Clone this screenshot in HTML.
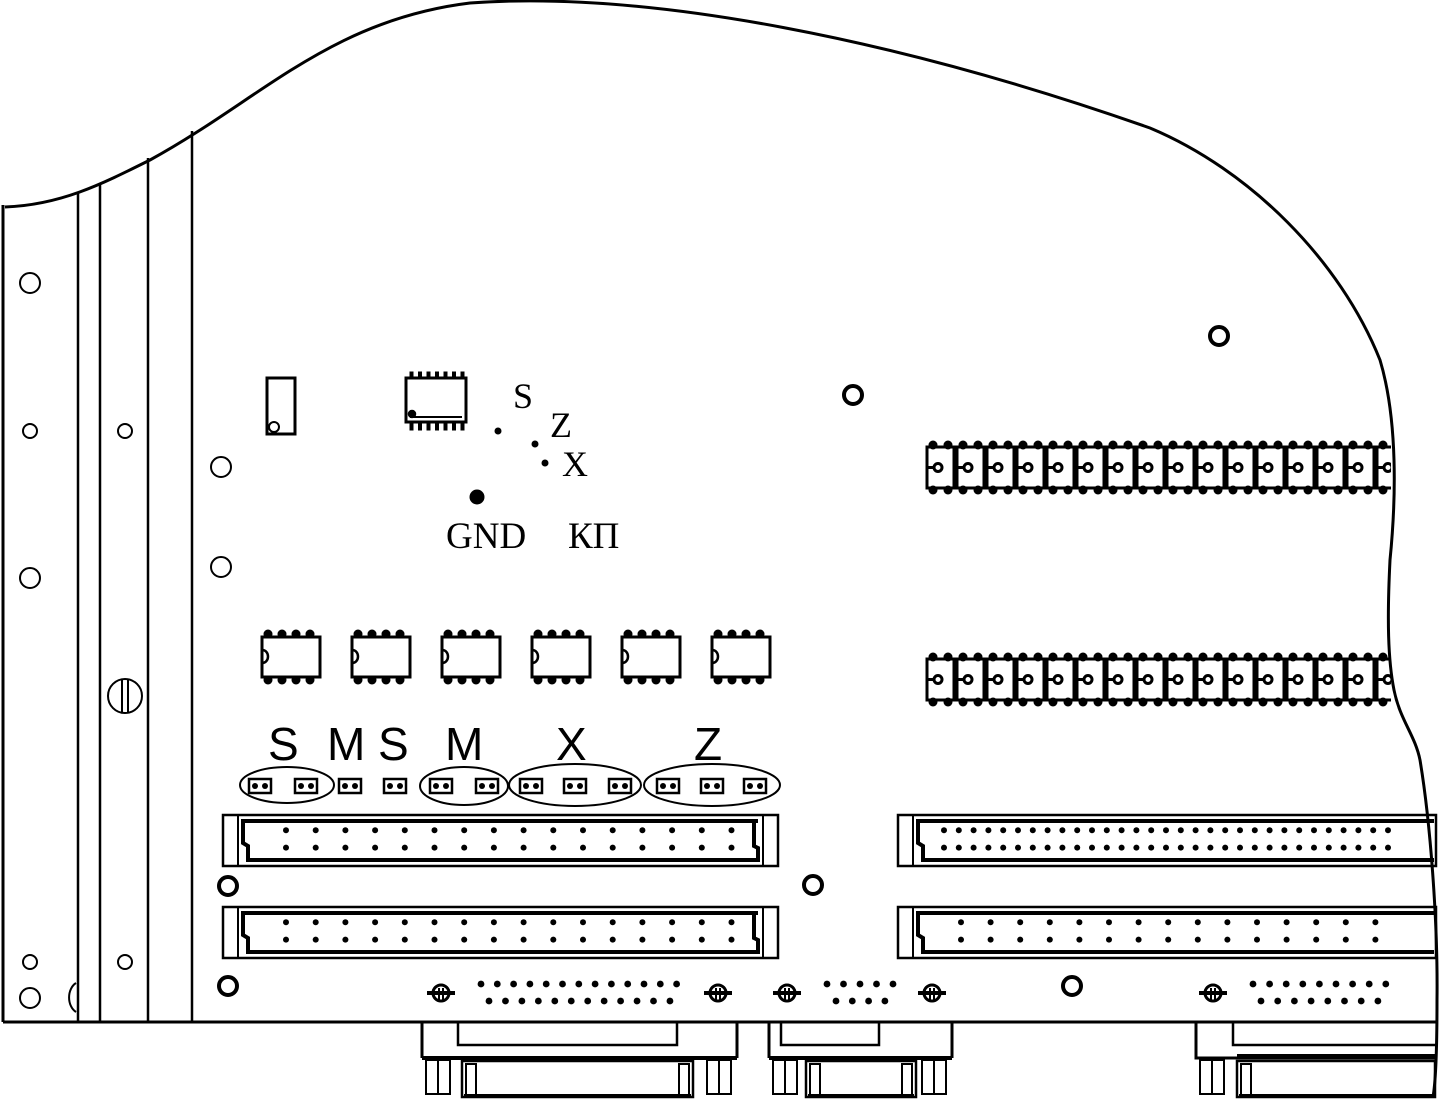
<!DOCTYPE html>
<html><head><meta charset="utf-8"><style>
html,body{margin:0;padding:0;background:#fff;width:1441px;height:1099px;overflow:hidden}
svg{display:block}
.s{font-family:"Liberation Serif",serif;fill:#000}
.a{font-family:"Liberation Sans",sans-serif;fill:#000}
</style></head><body>
<svg id="c" width="1441" height="1099" viewBox="0 0 1441 1099" xmlns="http://www.w3.org/2000/svg" fill="none" stroke="#000" stroke-width="2.5">
<defs><clipPath id="cl"><rect x="0" y="0" width="1391" height="1099"/></clipPath></defs>
<path d="M5,207 C60,205 100,185 150,160 C260,100 330,20 470,3 C650,-10 900,40 1150,128 C1250,170 1340,260 1380,360 C1398,420 1396,500 1390,560 C1387,620 1388,660 1394,690 C1400,720 1415,735 1420,760 C1430,820 1438,920 1437,1000 C1437,1050 1436,1080 1433,1097" stroke-width="3"/>
<line x1="3" y1="205" x2="3" y2="1022" stroke-width="3"/>
<line x1="3" y1="1022" x2="1437" y2="1022" stroke-width="3"/>
<line x1="78" y1="193" x2="78" y2="1022"/>
<line x1="100" y1="183" x2="100" y2="1022"/>
<line x1="148" y1="158" x2="148" y2="1022"/>
<line x1="192" y1="131" x2="192" y2="1022"/>
<g stroke-width="2">
<circle cx="30" cy="283" r="10"/><circle cx="30" cy="431" r="7"/><circle cx="125" cy="431" r="7"/>
<circle cx="30" cy="578" r="10"/><circle cx="221" cy="467" r="10"/><circle cx="221" cy="567" r="10"/>
<circle cx="125" cy="696" r="17"/><line x1="122" y1="680" x2="122" y2="713"/><line x1="128" y1="680" x2="128" y2="713"/>
<circle cx="30" cy="962" r="7"/><circle cx="125" cy="962" r="7"/><circle cx="30" cy="998" r="10"/>
<path d="M76,983 A12,16 0 0 0 76,1012"/>
</g>
<g stroke-width="4">
<circle cx="853" cy="395" r="9"/><circle cx="1219" cy="336" r="9"/><circle cx="228" cy="886" r="9"/>
<circle cx="813" cy="885" r="9"/><circle cx="228" cy="986" r="9"/><circle cx="1072" cy="986" r="9"/>
</g>
<rect x="267" y="378" width="28" height="56" stroke-width="3"/>
<circle cx="274" cy="427" r="5" stroke-width="2"/>
<rect x="406" y="378" width="60" height="44" stroke-width="3"/>
<line x1="410" y1="417" x2="462" y2="417" stroke-width="2"/>
<circle cx="412" cy="414" r="3" fill="#000"/>
<text class="s" x="513" y="408" font-size="36" stroke="none">S</text>
<text class="s" x="550" y="437" font-size="36" stroke="none">Z</text>
<text class="s" x="562" y="476" font-size="36" stroke="none">X</text>
<text class="s" x="446" y="548" font-size="37" stroke="none">GND</text>
<text class="s" x="568" y="548" font-size="37" stroke="none">КП</text>
<g fill="#000" stroke="none">
<circle cx="498" cy="431" r="3.5"/><circle cx="535" cy="444" r="3.5"/><circle cx="545" cy="463" r="3.5"/><circle cx="477" cy="497" r="7.5"/>
</g>
<text class="a" x="268" y="760" font-size="46" stroke="none">S</text>
<text class="a" x="327" y="760" font-size="46" stroke="none">M</text>
<text class="a" x="378" y="760" font-size="46" stroke="none">S</text>
<text class="a" x="445" y="760" font-size="46" stroke="none">M</text>
<text class="a" x="556" y="760" font-size="46" stroke="none">X</text>
<text class="a" x="694" y="760" font-size="46" stroke="none">Z</text>
<g stroke-width="2">
<ellipse cx="287" cy="785" rx="47" ry="18"/><ellipse cx="464" cy="786" rx="44" ry="19"/>
<ellipse cx="575" cy="785" rx="66" ry="21"/><ellipse cx="712" cy="785" rx="68" ry="21"/>
</g>
<g id="sock" clip-path="url(#cl)"></g>
<g id="gen"></g>
</svg>
<script>
var h='';
function R(x,y,w,hh,sw,f){h+='<rect x="'+x+'" y="'+y+'" width="'+w+'" height="'+hh+'" stroke-width="'+(sw||2.5)+'"'+(f?' fill="#000"':'')+'/>';}
function C(x,y,r,f,sw){h+='<circle cx="'+x+'" cy="'+y+'" r="'+r+'"'+(f?' fill="#000" stroke="none"':' stroke-width="'+(sw||2)+'"')+'/>';}
function L(a,b,c,d,sw){h+='<line x1="'+a+'" y1="'+b+'" x2="'+c+'" y2="'+d+'" stroke-width="'+(sw||2.5)+'"/>';}
[[440,495],[652,707]].forEach(function(r){
 for(var i=0;i<16;i++){var x=925+i*30;var m=(r[0]+r[1])/2;
  R(x+2,r[0]+7,27,r[1]-r[0]-14,3);
  C(x+13,m,4,0,3);L(x+2,m,x+9,m,3);
  C(x+8,r[0]+5,4.5,1);C(x+23,r[0]+5,4.5,1);C(x+8,r[1]-5,4.5,1);C(x+23,r[1]-5,4.5,1);
 }});
document.getElementById('sock').innerHTML=h;h='';
for(var i=0;i<7;i++){var x=410+i*8.5;R(x,372,3,6,1,1);R(x,422,3,8,1,1);}
for(var k=0;k<6;k++){var x=260+k*90;
 R(x+2,637,58,40,3);h+='<path d="M'+(x+2)+',650 C'+(x+10)+',650 '+(x+10)+',663 '+(x+2)+',663" stroke-width="2.5"/>';
 for(var j=0;j<4;j++){C(x+8+j*14,634,4.5,1);C(x+8+j*14,680,4.5,1);}}
[260,306,350,395,441,487,531,575,620,668,712,755].forEach(function(x){R(x-11,779,22,14,2.5);C(x-5,786,3,1);C(x+5,786,3,1);});
function conn(x1,x2,y1,y2,n,sx,step){
 R(x1,y1,x2-x1,y2-y1,2.5);L(x1+15,y1,x1+15,y2,2);
 if(x2<1000){L(x2-15,y1,x2-15,y2,2);}
 var ex=x2<1000?x2-20:x2-2;
 h+='<path d="M'+ex+','+(y1+6)+' L'+(x1+20)+','+(y1+6)+' L'+(x1+20)+','+(y1+28)+' L'+(x1+25)+','+(y1+31)+' L'+(x1+25)+','+(y2-6)+' L'+ex+','+(y2-6)+(x2<1000?' L'+ex+','+(y2-18)+' L'+(ex-4)+','+(y2-20)+' L'+(ex-4)+','+(y1+6):'')+'" stroke-width="4"/>';
 for(var i=0;i<n;i++){C(sx+i*step,y1+(y2-y1)*0.3,3,1);C(sx+i*step,y1+(y2-y1)*0.64,3,1);}
}
conn(223,778,815,866,16,286,29.7);
conn(223,778,907,958,16,286,29.7);
conn(898,1436,815,866,31,944,14.8);
conn(898,1436,907,958,15,961,29.6);
function scr(x){C(x,993,8,0,3);L(x-14,993,x+14,993,4);L(x-2,988,x-2,1002,2);L(x+2,988,x+2,1002,2);}
[441,718,787,932].forEach(scr);scr(1213);
function pins(sx,n,step,y){for(var i=0;i<n;i++)C(sx+i*step,y,3.4,1);}
pins(481,13,16.3,984);pins(489,12,16.45,1001);
pins(827,5,16.5,984);pins(836,4,16.3,1001);
pins(1253,9,16.6,984);pins(1261,8,16.7,1001);
function body(x1,x2,i1,i2,b1,b2){
 L(x1,1022,x1,1058,3);L(x2,1022,x2,1058,3);L(x1,1058,x2,1058,4);
 h+='<path d="M'+i1+',1022 L'+i1+',1045 L'+i2+',1045 L'+i2+',1022" stroke-width="2.5"/>';
 R(x1+4,1060,24,34,2);L(x1+16,1060,x1+16,1094,2);
 R(x2-30,1060,24,34,2);L(x2-18,1060,x2-18,1094,2);
 R(b1,1061,b2-b1,36,2.5);R(b1+4,1064,10,31,2);R(b2-14,1064,10,31,2);L(b1+2,1096,b2-2,1096,4);
}
body(422,737,458,677,462,693);
body(769,952,781,879,806,916);
h+='<path d="M1196,1022 L1196,1058 L1437,1058" stroke-width="3"/><path d="M1233,1022 L1233,1045 L1437,1045" stroke-width="2.5"/>';
R(1200,1060,24,34,2);L(1212,1060,1212,1094,2);R(1237,1061,198,36,2.5);R(1241,1064,10,31,2);L(1239,1096,1433,1096,4);
h+='<rect x="1237" y="1054" width="198" height="5" fill="#000" stroke="none"/>';
document.getElementById('gen').innerHTML=h;
</script>
</body></html>
